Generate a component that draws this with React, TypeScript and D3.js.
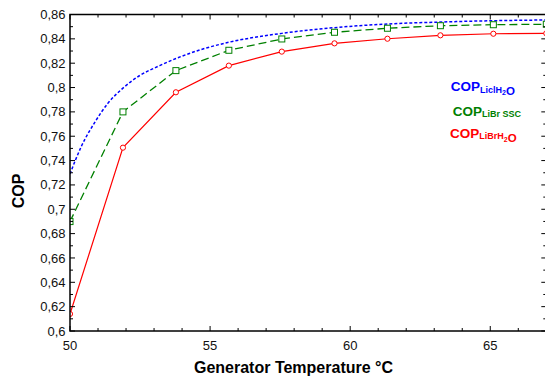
import React from "react";
import * as d3 from "d3";

const W = 545;
const H = 379;

// Generator temperature grid for the marked series
const tempPoints = [50, 51.89, 53.78, 55.67, 57.56, 59.44, 61.33, 63.22, 65.11, 67];
const copLiBrH2O = [0.614, 0.7506, 0.7961, 0.818, 0.8295, 0.8363, 0.8401, 0.8429, 0.8442, 0.8445];
const copLiBrSSC = [0.6899, 0.78, 0.8139, 0.8306, 0.8399, 0.8454, 0.8487, 0.8508, 0.8516, 0.852];

// LiCl-H2O curve
const tempLiCl = [50, 50.4, 50.9, 51.35, 51.89, 52.5, 53.2, 53.78, 54.65, 55.67, 57.56, 59.44, 61.33, 63.22, 65.11, 67];
const copLiClH2O = [0.729, 0.7514, 0.772, 0.787, 0.7995, 0.81, 0.818, 0.8238, 0.831, 0.8372, 0.8445, 0.8492, 0.8522, 0.8538, 0.8549, 0.8555];

const xMajorTicks = [50, 55, 60, 65];
const xMinorTicks = d3.range(50, 68, 1);
const yMajorTicks = d3.range(0, 14).map((i) => +(0.6 + i * 0.02).toFixed(2));
const yMinorTicks = d3.range(0, 27).map((i) => +(0.6 + i * 0.01).toFixed(2));

const FONT = "'Liberation Sans', Arial, Helvetica, sans-serif";

export default function App() {
  const left = 70;
  const right = 546.3;
  const top = 14.5;
  const bottom = 331;

  const x = d3.scaleLinear().domain([50, 67]).range([left, right]);
  const y = d3.scaleLinear().domain([0.6, 0.86]).range([bottom, top]);

  const lineRed = d3
    .line<number>()
    .x((_, i) => x(tempPoints[i]))
    .y((d) => y(d));
  const lineBlue = d3
    .line<number>()
    .x((_, i) => x(tempLiCl[i]))
    .y((d) => y(d))
    .curve(d3.curveMonotoneX);

  const fmt = (v: number) => String(+v.toFixed(2)).replace(".", ",");

  return (
    <svg
      width={W}
      height={H}
      style={{ position: "absolute", left: 0, top: 0, background: "#fff" }}
      fontFamily={FONT}
    >
      <defs>
        <clipPath id="plotClip">
          <rect x={left} y={top} width={right - left} height={bottom - top} />
        </clipPath>
      </defs>
      <rect x={0} y={0} width={W} height={H} fill="#fff" />

      {/* series */}
      <g clipPath="url(#plotClip)">
        <path
          d={lineBlue(copLiClH2O) || ""}
          fill="none"
          stroke="#0000ff"
          strokeWidth={1.5}
          strokeDasharray="3,2"
        />
        <path
          d={lineRed(copLiBrSSC) || ""}
          fill="none"
          stroke="#008000"
          strokeWidth={1.3}
          strokeDasharray="8,4"
        />
        <path d={lineRed(copLiBrH2O) || ""} fill="none" stroke="#ff0000" strokeWidth={1.2} />
        {copLiBrSSC.map((v, i) => (
          <rect
            key={"g" + i}
            x={x(tempPoints[i]) - 3}
            y={y(v) - 3}
            width={6}
            height={6}
            fill="#fff"
            stroke="#008000"
            strokeWidth={1}
          />
        ))}
        {copLiBrH2O.map((v, i) => (
          <circle
            key={"r" + i}
            cx={x(tempPoints[i])}
            cy={y(v)}
            r={2.6}
            fill="#fff"
            stroke="#ff0000"
            strokeWidth={1}
          />
        ))}
      </g>

      {/* frame */}
      <rect x={left} y={top} width={right - left} height={bottom - top} fill="none" stroke="#000" strokeWidth={1.5} />

      {/* ticks */}
      {xMinorTicks.map((t) => {
        const major = xMajorTicks.includes(t);
        const len = major ? 5 : 3;
        return (
          <g key={"xt" + t}>
            <line x1={x(t)} x2={x(t)} y1={bottom} y2={bottom - len} stroke="#000" strokeWidth={1} />
            <line x1={x(t)} x2={x(t)} y1={top} y2={top + len} stroke="#000" strokeWidth={1} />
          </g>
        );
      })}
      {yMinorTicks.map((t, i) => {
        const major = i % 2 === 0;
        const len = major ? 5 : 3;
        return (
          <g key={"yt" + i}>
            <line x1={left} x2={left + len} y1={y(t)} y2={y(t)} stroke="#000" strokeWidth={1} />
            <line x1={right} x2={right - len} y1={y(t)} y2={y(t)} stroke="#000" strokeWidth={1} />
          </g>
        );
      })}

      {/* tick labels */}
      {xMajorTicks.map((t) => (
        <text key={"xl" + t} x={x(t)} y={350} fontSize={13} textAnchor="middle" fill="#111">
          {t}
        </text>
      ))}
      {yMajorTicks.map((t) => (
        <text
          key={"yl" + t}
          x={65.5}
          y={y(t)}
          dy="0.35em"
          fontSize={13}
          textAnchor="end"
          fill="#111"
        >
          {fmt(t)}
        </text>
      ))}

      {/* axis titles */}
      <text x={293.5} y={373} fontSize={16} fontWeight="bold" textAnchor="middle" fill="#000">
        Generator Temperature °C
      </text>
      <text
        transform="translate(23.5,191) rotate(-90)"
        fontSize={16}
        fontWeight="bold"
        textAnchor="middle"
        fill="#000"
      >
        COP
      </text>

      {/* legend */}
      <text x={450.7} y={91} fontSize={13.5} fontWeight="bold" fill="#0000ff">
        COP
        <tspan fontSize={9} dy={1.5}>LiclH</tspan>
        <tspan fontSize={7} dy={2.5}>2</tspan>
        <tspan fontSize={11.5} dy={0}>O</tspan>
      </text>
      <text x={452.7} y={115.7} fontSize={13.5} fontWeight="bold" fill="#008000">
        COP
        <tspan fontSize={9} dy={1}>LiBr SSC</tspan>
      </text>
      <text x={450} y={138.3} fontSize={13.5} fontWeight="bold" fill="#ff0000">
        COP
        <tspan fontSize={9} dy={1}>LiBrH</tspan>
        <tspan fontSize={7} dy={3}>2</tspan>
        <tspan fontSize={11.5} dy={0}>O</tspan>
      </text>
    </svg>
  );
}
